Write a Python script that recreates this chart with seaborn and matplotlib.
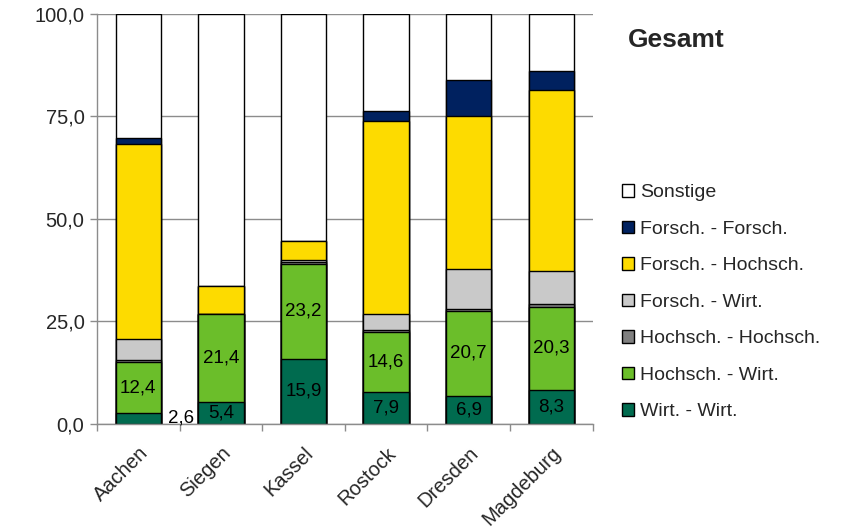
import numpy as np
import pandas as pd
import seaborn as sns
import matplotlib.pyplot as plt
from matplotlib.patches import Patch
from matplotlib.ticker import FuncFormatter

cities = ['Aachen', 'Siegen', 'Kassel', 'Rostock', 'Dresden', 'Magdeburg']
wirt_wirt = [2.6, 5.4, 15.9, 7.9, 6.9, 8.3]
hochsch_wirt = [12.4, 21.4, 23.2, 14.6, 20.7, 20.3]
hochsch_hochsch = [0.6, 0.0, 0.3, 0.4, 0.4, 0.6]
forsch_wirt = [5.1, 0.0, 0.5, 4.0, 9.9, 8.2]
forsch_hochsch = [47.6, 6.9, 4.6, 47.0, 37.1, 44.1]
forsch_forsch = [1.4, 0.0, 0.0, 2.4, 8.9, 4.6]
sonstige = [30.3, 66.3, 55.5, 23.7, 16.1, 13.9]

# bottom to top
series = [
    ('Wirt. - Wirt.', wirt_wirt, '#006B4F'),
    ('Hochsch. - Wirt.', hochsch_wirt, '#6BBE2A'),
    ('Hochsch. - Hochsch.', hochsch_hochsch, '#808080'),
    ('Forsch. - Wirt.', forsch_wirt, '#C9C9C9'),
    ('Forsch. - Hochsch.', forsch_hochsch, '#FDDB00'),
    ('Forsch. - Forsch.', forsch_forsch, '#00215F'),
    ('Sonstige', sonstige, '#FFFFFF'),
]

sns.set_theme(style='white')
plt.rcParams['font.family'] = ['Liberation Sans', 'DejaVu Sans']

fig = plt.figure(figsize=(8.43, 5.32), dpi=100)
ax = fig.add_axes([0.115, 0.203, 0.588, 0.771])

df = pd.DataFrame({name: vals for name, vals, _ in series}, index=cities)
cum = df.cumsum(axis=1)

# draw cumulative bars from top down so each layer covers the one above
for name, _, color in reversed(series):
    sns.barplot(x=cities, y=cum[name].values, color=color, width=0.55,
                edgecolor='black', linewidth=1.0, saturation=1, ax=ax)

ax.set_ylim(0, 100)
ax.set_xlim(-0.5, len(cities) - 0.5)
ax.set_yticks([0, 25, 50, 75, 100])
ax.yaxis.set_major_formatter(FuncFormatter(lambda v, p: f'{v:.1f}'.replace('.', ',')))
ax.grid(axis='y', color='#8c8c8c', linewidth=1.0)
ax.set_axisbelow(True)
for s in ['top', 'right']:
    ax.spines[s].set_visible(False)
for s in ['left', 'bottom']:
    ax.spines[s].set_color('#8c8c8c')
    ax.spines[s].set_linewidth(1.0)

ax.set_xticks(np.arange(len(cities)))
ax.set_xticklabels(cities, rotation=45, ha='right', rotation_mode='anchor', fontsize=14.5)
ax.tick_params(axis='x', length=0, pad=14)
ax.set_xticks(np.arange(len(cities) + 1) - 0.5, minor=True)
ax.tick_params(axis='x', which='minor', length=5, color='#8c8c8c', width=1, bottom=True)
ax.tick_params(axis='y', length=5, color='#8c8c8c', width=1, left=True, labelsize=14.5, pad=4)
ax.set_xlabel('')
ax.set_ylabel('')

# value labels for the two bottom series
for i in range(len(cities)):
    v1 = wirt_wirt[i]
    v2 = hochsch_wirt[i]
    lab1 = f'{v1:.1f}'.replace('.', ',')
    if v1 < 4:
        ax.text(i + 0.36, v1 / 2 + 0.2, lab1, ha='left', va='center', fontsize=13.5, color='black')
    else:
        ax.text(i, v1 / 2, lab1, ha='center', va='center', fontsize=13.5, color='black')
    ax.text(i, v1 + v2 / 2, f'{v2:.1f}'.replace('.', ','), ha='center', va='center',
            fontsize=13.5, color='black')

fig.text(0.745, 0.925, 'Gesamt', fontsize=19, fontweight='bold', ha='left', va='center')

handles = [Patch(facecolor=c, edgecolor='black', linewidth=1.0, label=n)
           for n, _, c in reversed(series)]
fig.legend(handles=handles, loc='upper left', bbox_to_anchor=(0.729, 0.668),
           frameon=False, fontsize=14, handlelength=0.6, handleheight=0.6,
           handletextpad=0.3, labelspacing=1.0, borderaxespad=0)

fig.savefig('out.png', dpi=100)
